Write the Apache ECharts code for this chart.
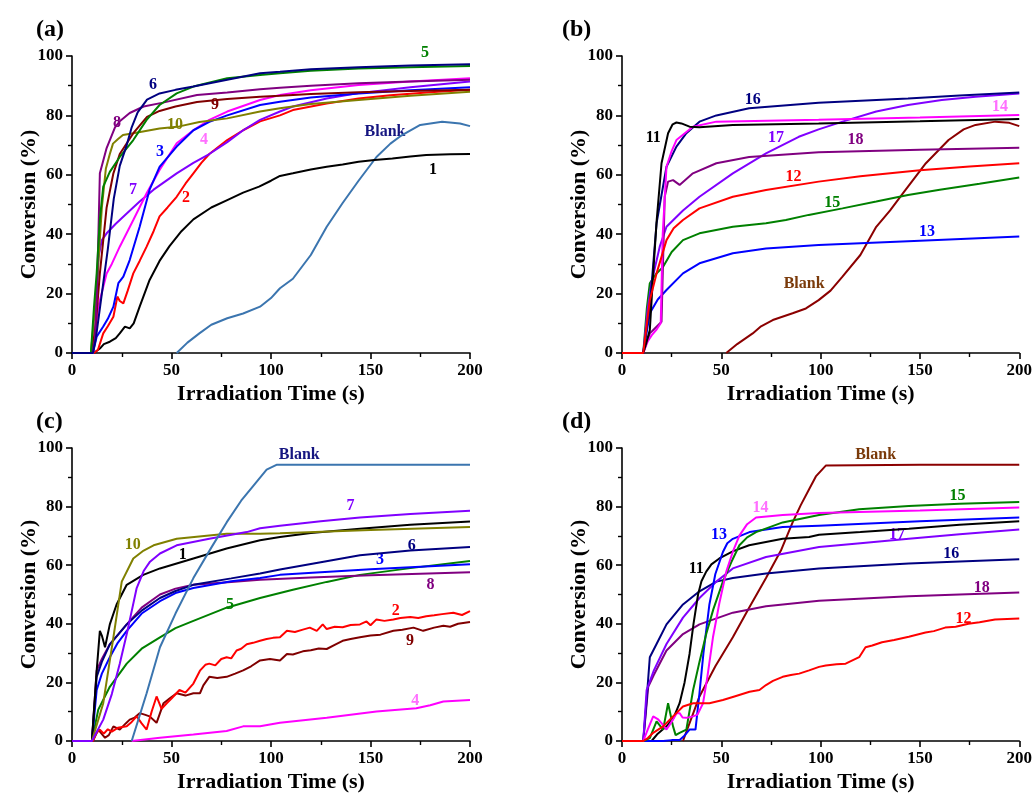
<!DOCTYPE html>
<html>
<head>
<meta charset="utf-8">
<script src="https://cdn.jsdelivr.net/npm/echarts@6/dist/echarts.min.js"></script>
<style>
html,body{margin:0;padding:0;background:#fff;}
#chart{width:1035px;height:794px;}
</style>
</head>
<body>
<div id="chart"></div>
<script>
// ---------- axis ticks ----------
const xTicks = [0, 50, 100, 150, 200];
const yTicks = [0, 20, 40, 60, 80, 100];
const xTitle = 'Irradiation Time (s)';
const yTitle = 'Conversion (%)';
const panelLetters = ['(a)', '(b)', '(c)', '(d)'];

// ---------- panel (a) ----------
const a1 = [[0,0],[11,0],[12,0.5],[14,1.5],[16,3],[19,3.8],[22,5],[24,6.6],[26.6,8.9],[29,8.3],[31,10],[34,15.6],[39,24.6],[44,31],[49,36],[55,41],[61,45],[70,49],[78,51.5],[86,54],[94,56],[100,58],[104.5,59.6],[111,60.5],[120,61.8],[128,62.7],[136,63.5],[144,64.4],[152,65],[161,65.5],[170,66.2],[178,66.7],[190,66.9],[200,67]];
const a2 = [[0,0],[11,0],[13,1],[15.7,6.6],[18,9],[20.8,12.2],[22.8,19],[24,17.5],[25.8,16.7],[28,21],[30.8,26.8],[34,31],[37.5,35.8],[41,41],[44,46],[48,49],[52.6,52.6],[57,57],[61,60.5],[65,64],[69,67],[78,71.7],[86,75],[94.5,78],[104.5,80],[111,81.8],[128,84],[144,85.7],[160,86.8],[180,87.8],[200,88.6]];
const a3 = [[0,0],[10.5,0],[12.4,5.5],[15.7,8.9],[18,11.5],[20.8,15.6],[23.3,23.5],[25.8,25.7],[29,31.3],[34,42.5],[39,55],[44,62.7],[52.6,69.5],[61,75],[69,77.8],[78,80],[94.5,83.5],[104.5,84.6],[120,86],[144,87.4],[170,88.5],[200,89.5]];
const a4 = [[0,0],[10.5,0],[13.2,15.6],[17.4,26.8],[20,30],[24,35.8],[30.8,44.8],[37.5,53.8],[44,61.6],[52.6,70.6],[61,75],[69,78.5],[78,81.3],[94.5,85.2],[104.5,86.9],[120,88.5],[144,90.2],[170,91.4],[200,92.5]];
const a5 = [[0,0],[9.5,0],[11,15],[12.4,26.8],[14,45],[15.7,56],[19,61],[24,66],[30.8,71.7],[37.5,78.5],[44,83.5],[52.6,87.4],[61,89.7],[78,92.5],[94.5,93.6],[104.5,94.2],[120,95],[144,95.8],[170,96.2],[200,96.6]];
const a6 = [[0,0],[10.5,0],[12,5],[15,20],[18,35],[21,52],[24,63],[27.5,70],[30,76],[33,81],[37.7,85.3],[44,87.4],[52,88.6],[61,89.7],[78,92],[94.5,94.2],[104.5,94.7],[120,95.5],[144,96.2],[170,96.8],[200,97.2]];
const a7 = [[0,0],[10.5,0],[11.6,4.4],[13.2,32],[15,38],[17.4,40.3],[22,43.5],[27.5,47],[34,51],[41,55],[52.6,60.5],[61,64],[69,67],[78,71],[86,75],[94.5,78.5],[104.5,81.3],[111,83],[128,85.7],[144,87.5],[170,89.5],[200,91.4]];
const a8 = [[0,0],[10,0],[11.5,4.4],[12.5,20],[13.2,38],[14,60.5],[17.4,69],[21.6,76],[24,78],[29,80.8],[36,83],[45.7,84.3],[62.8,86.9],[78,87.7],[94.5,88.8],[104.5,89.3],[120,90],[144,90.8],[170,91.4],[200,92]];
const a9 = [[0,0],[10,0],[12,10],[14,26.8],[17.4,49],[20.8,60.5],[24,67],[30.8,74],[37.7,79.5],[44,81.5],[52,83],[62.8,84.5],[78,85.5],[94.5,86.3],[104.5,86.6],[120,87.2],[144,87.8],[170,88.2],[200,88.6]];
const a10 = [[0,0],[9.5,0],[12.4,21],[15,49],[17,62],[19,67],[20.6,70.5],[23,72],[25.6,73.4],[30.8,74],[44,75.6],[54,76.3],[64,77.8],[78,79],[94.5,81.3],[104.5,82.4],[120,83.8],[144,85.2],[170,86.6],[200,88]];
const aBlank = [[52.6,0],[58,3.5],[64,6.6],[70,9.5],[78,11.7],[86,13.3],[94.5,15.6],[100,18.5],[104.5,21.8],[111,25],[120,33],[128,42.5],[136,50.5],[144,58],[153,66],[160,70.5],[165,73],[175,76.8],[186,77.9],[195,77.3],[200,76.4]];

// ---------- panel (b) ----------
const b11 = [[0,0],[10.7,0],[12.5,4],[14,7.7],[14.8,8],[15.7,26.8],[17.5,45],[19.9,63.9],[23.2,74],[25.5,77],[27.4,77.6],[29.9,77.3],[34,76.2],[39,76],[55.8,76.8],[99,77.3],[150,78],[200,78.8]];
const b12 = [[0,0],[10.7,0],[14,17.8],[17.4,26.8],[22.4,38],[26,42],[30.7,44.8],[39,48.7],[55.8,52.6],[72.5,54.9],[99,57.7],[120,59.5],[150,61.5],[175,62.8],[200,63.9]];
const b13 = [[0,0],[10.7,0],[14,13.4],[18,18],[22.4,21.2],[30.7,26.8],[39,30.2],[55.8,33.6],[72.5,35.2],[99,36.4],[150,37.8],[200,39.2]];
const b14 = [[0,0],[10.7,0],[13,4],[15,6],[17.5,8],[19.5,10],[20.5,40],[22.4,62.7],[25,68],[27.4,71.7],[35.7,76.2],[47.5,77.9],[99,78.5],[150,79.3],[200,80.1]];
const b15 = [[0,0],[10.7,0],[12.5,15],[14,23.5],[17,26.5],[20.7,29],[25,34],[30.7,38],[39,40.3],[55.8,42.5],[72.5,43.7],[82.5,44.8],[94,46.5],[111,48.7],[128,51],[144,53.2],[160,55],[180,57],[200,59.1]];
const b16 = [[0,0],[10.7,0],[14,15.6],[17.4,43.7],[22.4,62.7],[27.4,69.5],[32.4,74],[39,77.9],[47.5,80],[64,82.4],[99,84.3],[144,85.7],[170,86.7],[200,87.7]];
const b17 = [[0,0],[10.7,0],[13,15],[14.9,24],[16,27],[19,35.8],[22.4,42.5],[30.7,48],[39,52.6],[55.8,60.5],[72.5,67.2],[89,72.8],[99,75.3],[111,77.9],[128,81.3],[144,83.5],[161,85.2],[178,86.3],[200,87.4]];
const b18 = [[0,0],[10.7,0],[14,6.6],[19.9,10.5],[21.5,52.6],[23.2,57.7],[25.7,58.2],[29,56.6],[35.7,60.5],[47.5,63.9],[64,66],[99,67.6],[150,68.4],[200,69.1]];
const bBlank = [[52.5,0],[58,3],[65.8,6.6],[70,9],[75.9,11.1],[85.9,13.4],[92.6,15],[99,17.8],[105,21],[111,25.7],[120,33],[128,42.5],[135,48],[141.5,53.8],[153,63.9],[164.4,71.7],[172,75.3],[178,76.8],[188,77.9],[195,77.5],[200,76.4]];

// ---------- panel (c) ----------
const c1 = [[0,0],[10,0],[12.4,24],[14,37.6],[15,36],[16.6,32],[19,39.8],[22.4,46.6],[27.5,53.3],[35.8,56.7],[44.2,58.9],[61,62.3],[77.7,65.7],[94.5,68.5],[104.5,69.6],[120,71],[144.7,72.4],[170,73.8],[200,74.9]];
const c2 = [[0,0],[10.5,0],[12,2.5],[14,3.9],[16,2.5],[18,4],[20,3.2],[23,4.5],[27.5,5],[30,6.5],[32.5,8.4],[35,6],[37.5,3.9],[40,10],[42.5,15.2],[45,11],[47.6,12.9],[50,14.5],[54,17.4],[57,16.5],[61,19.6],[64.3,24],[67,26],[69,26.4],[72,25.8],[75,28],[77.7,28.6],[80,28.2],[82.7,30.9],[85,31.5],[87.8,33],[91,33.5],[94.5,34.2],[97.8,34.8],[101,35.2],[104.5,35.4],[108,37.6],[112,37.2],[116,38],[119.5,38.7],[123,37.6],[126,39.8],[128,38.2],[132,39],[136,38.8],[140,39.6],[144.7,39.8],[148,40.8],[150,39.5],[153,41.5],[157,41],[161.5,41.5],[165,42],[170,42.3],[174,42],[178,42.6],[182,42.9],[186,43.3],[191.6,43.8],[196,43],[200,44.3]];
const c3 = [[0,0],[10,0],[12.4,17.4],[15,23],[19,28.6],[23,33.5],[27.5,37.6],[35,43.5],[44.2,47.7],[52,50.5],[61,52.2],[80,54.5],[94.5,55.6],[104.5,56.7],[125,57.6],[150,58.6],[175,59.5],[200,60.3]];
const c4 = [[30,0],[44.2,1.1],[61,2.2],[77.7,3.4],[86,5],[94.5,5],[104.5,6.2],[128,7.9],[153,10.1],[173,11.2],[180,12.2],[186.6,13.5],[200,14]];
const c5 = [[0,0],[10,0],[13.2,10.7],[19,18.5],[27.5,26.4],[35,31.5],[44.2,35.4],[52,38.5],[61,41],[77.7,45.5],[94.5,48.8],[111,51.6],[128,54.3],[144.7,56.7],[170,59],[200,61.4]];
const c6 = [[0,0],[10,0],[12.4,21.9],[15,27],[19,33],[27.5,39.8],[35,44.5],[44.2,48.8],[52,51.2],[61,53.3],[80,55.5],[94.5,57.2],[104.5,58.5],[125,61],[144.7,63.4],[170,65],[200,66.2]];
const c7 = [[0,0],[10,0],[15.7,7.3],[20,16],[24,26.4],[28,38],[32.5,52.2],[36,58],[39.2,61.2],[44.2,64],[52.6,66.8],[69,69],[87.8,71.3],[94.5,72.6],[104.5,73.5],[125,75],[144.7,76.3],[170,77.5],[200,78.6]];
const c8 = [[0,0],[10,0],[12.4,24],[15,28],[19,33],[27.5,39.8],[35,45.5],[44.2,50],[52,52],[61,53.3],[80,54.3],[94.5,55],[120,55.8],[150,56.6],[175,57.1],[200,57.6]];
const c9 = [[0,0],[10.5,0],[13.2,3.9],[16.6,1.1],[18.5,2],[20.8,5],[24,3.9],[27,6],[29,7.3],[31.5,8],[34,9.5],[36.5,9],[39,8.4],[42.5,6.2],[46,12.9],[49,14.5],[52.6,16.3],[57,15.5],[61,16.3],[64.3,16.3],[66,19],[69,21.9],[73,21.5],[77.7,21.9],[82,23],[86,24.1],[90,25.5],[94.5,27.5],[99.5,28],[104.5,27.5],[108,29.7],[111,29.5],[116,30.6],[120,31],[124,31.6],[128,31.4],[132,32.8],[136,34.2],[140,34.8],[144.7,35.4],[150,36],[155,36.3],[161.5,37.6],[166,38],[171.6,38.7],[176.5,37.6],[182,38.7],[186.6,39.3],[190,39],[194,40],[200,40.6]];
const c10 = [[0,0],[10,0],[15.7,12.9],[20.8,35.4],[25,54.4],[30.8,62.3],[36,65],[41,66.8],[52.6,69],[77.7,70.7],[94.5,70.7],[104.5,70.9],[150,72],[200,73]];
const cBlank = [[30,0],[37.5,16.3],[44.2,32],[52,43.5],[61,55.6],[70,66],[77.7,74.6],[85,82],[91,87],[97.8,92.6],[103,94.3],[150,94.3],[200,94.3]];

// ---------- panel (d) ----------
const d11 = [[0,0],[14.9,0],[18,2.5],[22.4,5],[26,8],[29,12.9],[31.5,20],[34,29.7],[36,40],[38.3,50],[40,54.5],[42.4,57.8],[45,60.3],[49,62.3],[56,64.8],[64,66.8],[80.9,69],[94.2,69.6],[99.2,70.4],[120,71.3],[144.4,72.4],[170,73.8],[200,75]];
const d12 = [[0,0],[10.7,0],[13,1],[15.7,2.8],[20.7,5],[25.7,8.4],[30.7,11.8],[35.8,12.9],[44,12.9],[50.8,14],[57,15.3],[64.2,16.8],[69.2,17.4],[72.5,19.1],[76,20.5],[80.9,21.9],[85,22.5],[89.2,23],[94.2,24.1],[99.2,25.3],[102.6,25.8],[108,26.2],[112.6,26.4],[119.4,28.6],[122.6,32],[126,32.6],[130.9,33.7],[137,34.5],[144.4,35.6],[152.8,37],[157,37.5],[162.7,38.7],[168,39],[174.4,40],[180,40.5],[187.8,41.5],[200,41.8]];
const d13 = [[0,0],[20.7,0],[25,0.3],[29,0.3],[31,1.5],[34,3.9],[37,3.9],[39,16.3],[41,30],[44,46.6],[47,57],[50.8,64.5],[53,67.5],[55.8,69],[64.2,71.3],[80.9,73],[99.2,73.5],[150,75],[200,76.3]];
const d14 = [[0,0],[10.7,0],[13,4],[15.7,8.4],[18,7.5],[20,6],[22.4,3.9],[25.7,7.3],[27.5,9.5],[29,9.5],[30.5,8],[32.4,7.9],[35.8,8.4],[38,9],[40.8,12.9],[43,22],[45.8,35.4],[49,47],[52.5,57.8],[56,65],[59.1,70.1],[63,74],[67.5,76.3],[80.9,77.1],[99.2,77.8],[150,78.7],[200,79.7]];
const d15 = [[0,0],[10.7,0],[14,1],[17.4,6.7],[20.7,3.9],[23.2,12.9],[25.7,5],[27,2],[29,2.8],[32.4,3.9],[35.8,17.4],[39,27],[42.4,36.5],[46,45],[50.8,54.4],[55,61],[59.1,66.8],[63,69.5],[67.5,71.3],[80.9,74.6],[99.2,77.1],[119.4,79.1],[144.4,80.2],[170,81],[200,81.6]];
const d16 = [[0,0],[10.7,0],[12.5,15],[14,28.6],[17.4,33.1],[22.4,39.8],[30.7,46.6],[39,51.1],[47.5,54.4],[55.8,55.6],[72.5,57.2],[99.2,58.9],[144.4,60.6],[170,61.3],[200,62]];
const d17 = [[0,0],[10.7,0],[12.4,17.4],[16,24],[22.4,33.1],[30.7,42.1],[39,48.8],[47.5,54.4],[55.8,58.9],[72.5,62.8],[99.2,66.2],[120,67.5],[144.4,69],[170,70.6],[200,72.2]];
const d18 = [[0,0],[10.7,0],[13.2,18.5],[16,22.5],[22.4,30.9],[30.7,36.5],[39,39.8],[55.8,43.8],[72.5,46],[99.2,47.9],[144.4,49.4],[170,50],[200,50.7]];
const dBlank = [[30.7,0],[39,15.2],[47,25.5],[55.8,35.4],[64,45.5],[72.5,55.6],[80,65],[85.9,74.6],[90,80.5],[94.2,85.9],[97.6,90.3],[102.6,94],[150,94.3],[200,94.3]];

// ---------- curve annotations (text, x, y in data units) ----------
const labelsA = [['6',40.7,90.2],['5',177.4,101],['8',22.6,77.4],['9',71.9,83.5],['10',51.8,76.8],['Blank',157.3,74.5],['3',44.2,67.7],['4',66.3,71.7],['7',30.7,54.9],['2',57.3,52.2],['1',181.4,61.6]];
const labelsB = [['11',15.7,72.3],['16',65.8,85.2],['14',190.3,82.9],['17',77.5,72.3],['18',117.6,71.7],['12',86.4,59.4],['15',105.9,50.6],['13',153.5,40.8],['Blank',91.7,23.2]];
const labelsC = [['Blank',114.2,97.6],['7',140,80.2],['10',30.5,66.8],['1',55.6,63.4],['6',170.7,66.6],['3',154.8,61.7],['8',180.2,53.3],['5',79.4,46.6],['2',162.7,44.5],['9',169.8,34.2],['4',172.5,13.8]];
const labelsD = [['Blank',127.7,97.6],['15',168.9,83.6],['14',69.7,79.4],['13',48.8,70.5],['17',138.5,70.2],['16',165.8,64],['11',37.4,58.6],['18',181.1,52.2],['12',171.9,41.8]];

// ---------- styles ----------
const FONT = "'Liberation Serif','Times New Roman',serif";
const C = {
  black:'#000000', red:'#ff0000', blue:'#0000ff', magenta:'#ff00ff', green:'#008000',
  navy:'#000080', violet:'#8000ff', purple:'#800080', darkred:'#800000', olive:'#808000',
  steel:'#3b75af', blankDark:'#8b0000'
};
const labelColor = {
  a: {'1':C.black,'2':C.red,'3':C.blue,'4':'#ff6fff','5':C.green,'6':C.navy,'7':'#8000ff','8':C.purple,'9':C.darkred,'10':C.olive,'Blank':'#151580'},
  b: {'11':C.black,'12':C.red,'13':C.blue,'14':'#ff6fff','15':C.green,'16':C.navy,'17':'#8000ff','18':C.purple,'Blank':'#7a3a0a'},
  c: {'1':C.black,'2':C.red,'3':C.blue,'4':'#ff6fff','5':C.green,'6':C.navy,'7':'#8000ff','8':C.purple,'9':C.darkred,'10':C.olive,'Blank':'#151580'},
  d: {'11':C.black,'12':C.red,'13':C.blue,'14':'#ff6fff','15':C.green,'16':C.navy,'17':'#8000ff','18':C.purple,'Blank':'#7a3a0a'}
};

const panels = [
  {key:'a', grid:{left:72, top:56, width:398, height:297}, letter:[36,18],
   lines:[[aBlank,C.steel],[a1,C.black],[a2,C.red],[a7,C.violet],[a4,C.magenta],[a3,C.blue],[a10,C.olive],[a9,C.darkred],[a8,C.purple],[a5,C.green],[a6,C.navy]], labels:labelsA},
  {key:'b', grid:{left:622, top:56, width:399, height:297}, letter:[562,18],
   lines:[[bBlank,C.blankDark],[b13,C.blue],[b15,C.green],[b17,C.violet],[b18,C.purple],[b16,C.navy],[b14,C.magenta],[b11,C.black],[b12,C.red]], labels:labelsB},
  {key:'c', grid:{left:72, top:448, width:398, height:297}, letter:[36,410],
   lines:[[c4,C.magenta],[c9,C.darkred],[c2,C.red],[c5,C.green],[c8,C.purple],[c3,C.blue],[c6,C.navy],[c1,C.black],[c10,C.olive],[c7,C.violet],[cBlank,C.steel]], labels:labelsC},
  {key:'d', grid:{left:622, top:448, width:399, height:297}, letter:[562,410],
   lines:[[dBlank,C.blankDark],[d18,C.purple],[d16,C.navy],[d17,C.violet],[d11,C.black],[d13,C.blue],[d15,C.green],[d14,C.magenta],[d12,C.red]], labels:labelsD}
];

const axisCommon = {
  axisLine:{show:true, onZero:false, lineStyle:{color:'#000', width:1.6}},
  axisTick:{show:true, inside:false, length:6, lineStyle:{color:'#000', width:1.6}},
  minorTick:{show:true, splitNumber:2, length:4, lineStyle:{color:'#000', width:1.4}},
  splitLine:{show:false},
  axisLabel:{color:'#000', fontFamily:FONT, fontWeight:'bold', fontSize:17, margin:9},
  nameTextStyle:{color:'#000', fontFamily:FONT, fontWeight:'bold', fontSize:22}
};

const grids = [], xAxes = [], yAxes = [], series = [], graphics = [];
panels.forEach((p, i) => {
  grids.push(Object.assign({containLabel:false}, p.grid));
  xAxes.push(Object.assign({}, axisCommon, {
    type:'value', gridIndex:i, min:xTicks[0], max:xTicks[xTicks.length-1], interval:xTicks[1]-xTicks[0],
    name:xTitle, nameLocation:'middle', nameGap:30
  }));
  yAxes.push(Object.assign({}, axisCommon, {
    type:'value', gridIndex:i, min:yTicks[0], max:yTicks[yTicks.length-1], interval:yTicks[1]-yTicks[0],
    name:yTitle, nameLocation:'middle', nameGap:32, nameRotate:90, nameMoveOverlap:false
  }));
  p.lines.forEach(([data, color]) => {
    series.push({type:'line', xAxisIndex:i, yAxisIndex:i, data:data, showSymbol:false, symbol:'none',
      lineStyle:{color:color, width:2}, itemStyle:{color:color}, clip:true, silent:true, animation:false});
  });
  series.push({type:'scatter', xAxisIndex:i, yAxisIndex:i, symbolSize:0, clip:false, silent:true, animation:false,
    itemStyle:{color:'transparent', opacity:1},
    data:p.labels.map(l => ({value:[l[1], l[2]], name:l[0],
      label:{show:true, position:'inside', formatter:l[0], color:labelColor[p.key][l[0]],
        textBorderWidth:0, textBorderColor:'transparent', opacity:1,
        fontFamily:FONT, fontWeight:'bold', fontSize:16}}))});
  graphics.push({type:'text', left:p.letter[0], top:p.letter[1],
    style:{text:panelLetters[i], font:'bold 24px ' + FONT, fill:'#000'}});
});

const chart = echarts.init(document.getElementById('chart'), null, {renderer:'canvas'});
chart.setOption({
  animation:false,
  backgroundColor:'#fff',
  grid:grids, xAxis:xAxes, yAxis:yAxes, series:series, graphic:graphics
});
</script>
</body>
</html>
